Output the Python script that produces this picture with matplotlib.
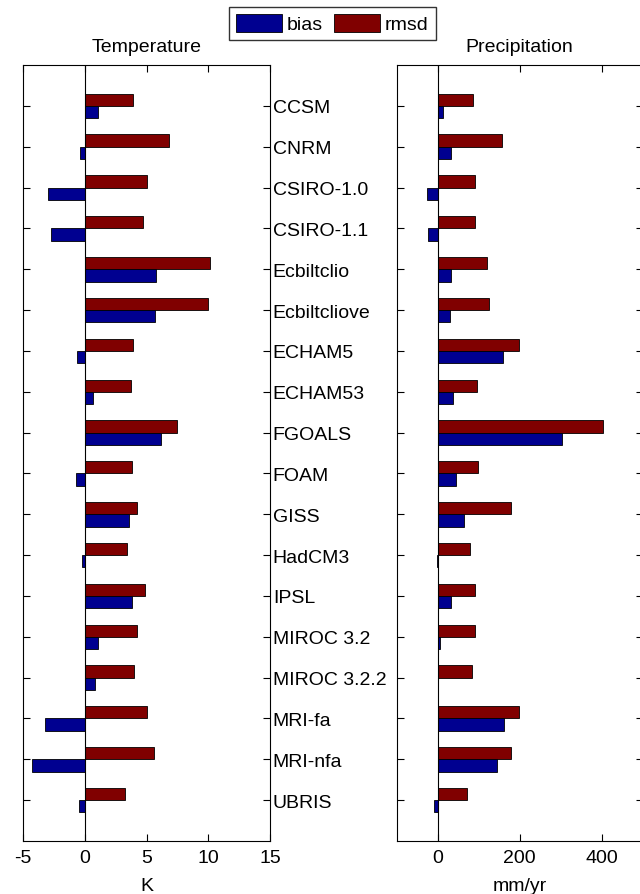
import matplotlib.pyplot as plt
import numpy as np

plt.rcParams['font.family'] = ['Liberation Sans', 'DejaVu Sans']
plt.rcParams['axes.unicode_minus'] = False

models = ['CCSM', 'CNRM', 'CSIRO-1.0', 'CSIRO-1.1', 'Ecbiltclio', 'Ecbiltcliove',
          'ECHAM5', 'ECHAM53', 'FGOALS', 'FOAM', 'GISS', 'HadCM3', 'IPSL',
          'MIROC 3.2', 'MIROC 3.2.2', 'MRI-fa', 'MRI-nfa', 'UBRIS']

# temperature (K)
temp_bias = [1.1, -0.4, -3.0, -2.7, 5.8, 5.7, -0.6, 0.65, 6.2, -0.75,
             3.6, -0.2, 3.8, 1.05, 0.85, -3.25, -4.3, -0.45]
temp_rmsd = [3.9, 6.85, 5.05, 4.75, 10.15, 10.0, 3.9, 3.7, 7.45, 3.8,
             4.25, 3.45, 4.85, 4.2, 4.0, 5.05, 5.6, 3.25]

# precipitation (mm/yr)
prec_bias = [12, 32, -26, -24, 32, 29, 160, 38, 303, 44,
             64, -3, 32, 6, 1, 161, 144, -8]
prec_rmsd = [87, 158, 92, 90, 120, 126, 198, 97, 403, 98,
             180, 78, 92, 92, 84, 198, 178, 72]

blue = '#000090'
red = '#800000'
y = np.arange(1, len(models) + 1)
h = 0.3
fs = 14

fig = plt.figure(figsize=(6.4, 8.95), dpi=100)
ax1 = fig.add_axes([0.036, 0.0592, 0.386, 0.867])
ax2 = fig.add_axes([0.620, 0.0592, 0.384, 0.867])

for ax, bias, rmsd in [(ax1, temp_bias, temp_rmsd), (ax2, prec_bias, prec_rmsd)]:
    ax.barh(y - h / 2, rmsd, height=h, color=red, edgecolor='k', linewidth=0.6, label='rmsd')
    ax.barh(y + h / 2, bias, height=h, color=blue, edgecolor='k', linewidth=0.6, label='bias')
    ax.axvline(0, color='k', lw=0.8)
    ax.set_ylim(len(models) + 1, 0)
    ax.set_yticks(y)
    ax.tick_params(direction='in', length=5, width=0.8, top=True, right=True,
                   left=True, bottom=True, labelsize=fs)
    ax.tick_params(axis='x', pad=6)
    for s in ax.spines.values():
        s.set_linewidth(0.8)

ax1.set_xlim(-5, 15)
ax1.set_xticks([-5, 0, 5, 10, 15])
ax1.set_yticklabels(models)
ax1.tick_params(axis='y', labelleft=False, labelright=True, pad=2)
ax1.set_title('Temperature', fontsize=fs, pad=10)
ax1.set_xlabel('K', fontsize=fs, labelpad=8)

ax2.set_xlim(-100, 500)
ax2.set_xticks([0, 200, 400])
ax2.set_yticklabels([])
ax2.set_title('Precipitation', fontsize=fs, pad=10)
ax2.set_xlabel('mm/yr', fontsize=fs, labelpad=8)

handles, labels = ax1.get_legend_handles_labels()
leg = fig.legend(handles[::-1], labels[::-1], loc='center', bbox_to_anchor=(0.519, 0.9726),
                 ncol=2, fontsize=fs, frameon=True, fancybox=False, edgecolor='k',
                 handlelength=2.37, handleheight=1.03, handletextpad=0.26, columnspacing=0.57,
                 borderpad=0.35, borderaxespad=0)
leg.get_frame().set_linewidth(1.0)

fig.savefig('out.png', dpi=100)
